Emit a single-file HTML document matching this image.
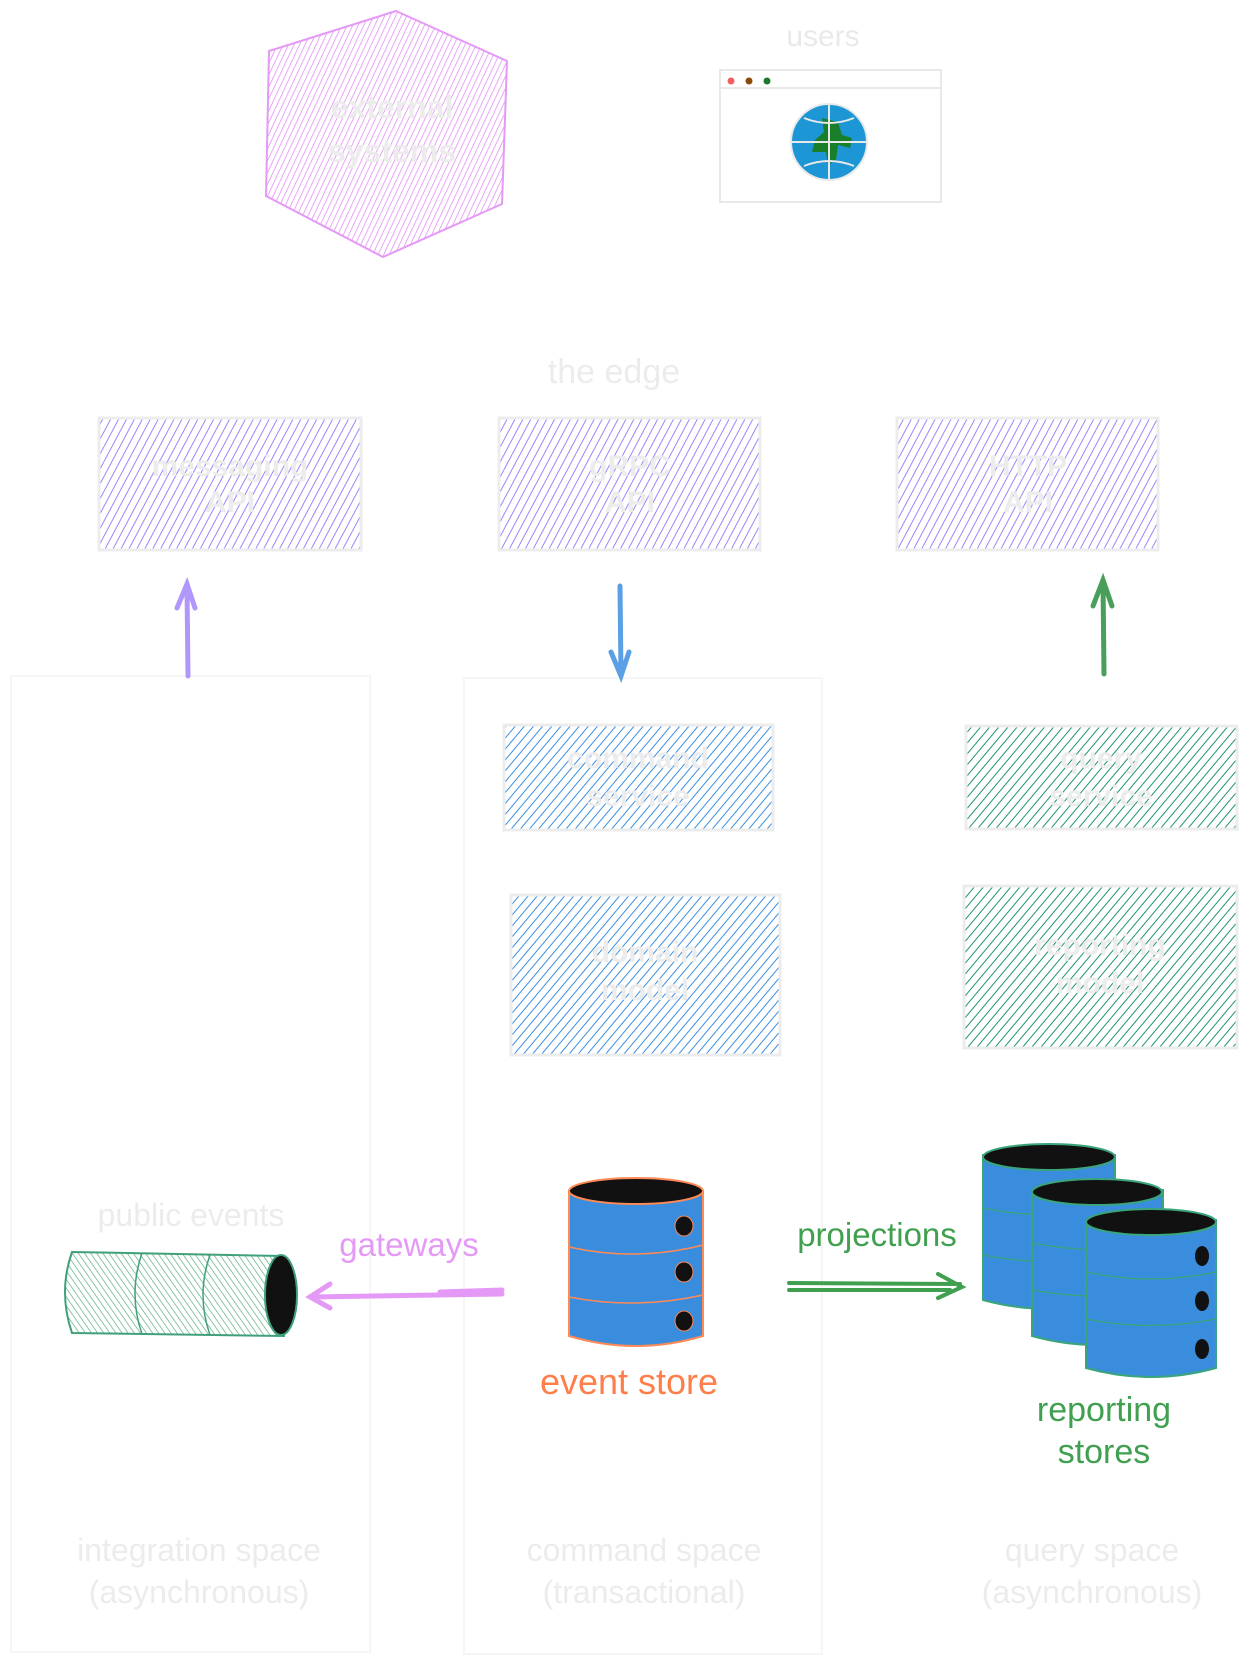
<!DOCTYPE html>
<html><head><meta charset="utf-8"><style>
html,body{margin:0;padding:0;background:#fff;}
svg{display:block}
text{font-family:"Liberation Sans",sans-serif;}
</style></head><body>
<svg width="1247" height="1670" viewBox="0 0 1247 1670" xmlns="http://www.w3.org/2000/svg">
<defs>
<pattern id="hp" width="5" height="5" patternUnits="userSpaceOnUse" patternTransform="rotate(25)"><line x1="0" y1="0" x2="0" y2="5" stroke="#e080f5" stroke-width="1.4"/></pattern>
<pattern id="hv" width="7" height="7" patternUnits="userSpaceOnUse" patternTransform="rotate(28)"><line x1="0" y1="0" x2="0" y2="7" stroke="#a283fb" stroke-width="2"/></pattern>
<pattern id="hb" width="7" height="7" patternUnits="userSpaceOnUse" patternTransform="rotate(40)"><line x1="0" y1="0" x2="0" y2="7" stroke="#3a8fe2" stroke-width="2"/></pattern>
<pattern id="hg" width="7" height="7" patternUnits="userSpaceOnUse" patternTransform="rotate(40)"><line x1="0" y1="0" x2="0" y2="7" stroke="#1f9566" stroke-width="2"/></pattern>
<pattern id="hgl" width="5" height="5" patternUnits="userSpaceOnUse" patternTransform="rotate(-35)"><line x1="0" y1="0" x2="0" y2="5" stroke="#5aae7a" stroke-width="1.4"/></pattern>
</defs>

<rect x="11" y="676" width="359" height="976" fill="none" stroke="#f6f6f6" stroke-width="2"/>
<rect x="464" y="678" width="358" height="976" fill="none" stroke="#f6f6f6" stroke-width="2"/>

<polygon points="396,11 507,61 502,204 383,257 266,196 269,51" fill="url(#hp)" stroke="#e599f7" stroke-width="2"/>
<text x="392" y="118" font-size="32" font-weight="bold" fill="#ececec" text-anchor="middle">external</text>
<text x="392" y="162" font-size="32" font-weight="bold" fill="#ececec" text-anchor="middle">systems</text>

<text x="823" y="46" font-size="30" fill="#e9e9e9" text-anchor="middle">users</text>
<rect x="720" y="70" width="221" height="132" fill="#fff" stroke="#e9e9e9" stroke-width="2"/>
<line x1="720" y1="88" x2="941" y2="88" stroke="#e9e9e9" stroke-width="2"/>
<circle cx="731" cy="81" r="3.5" fill="#f06060"/>
<circle cx="749" cy="81" r="3.5" fill="#8a4a0a"/>
<circle cx="767" cy="81" r="3.5" fill="#1a7a2a"/>
<circle cx="829" cy="142" r="38" fill="#1c96d4" stroke="#e9e9e9" stroke-width="2"/>
<path d="M822,118 L838,122 L842,135 L852,138 L850,148 L838,145 L836,160 L828,165 L826,152 L812,152 L815,140 L824,132 Z" fill="#1a7f2a"/>
<line x1="791" y1="142" x2="867" y2="142" stroke="#e9e9e9" stroke-width="2"/>
<line x1="829" y1="104" x2="829" y2="180" stroke="#e9e9e9" stroke-width="2"/>
<path d="M804,118 Q829,128 854,118 M804,166 Q829,156 854,166" fill="none" stroke="#e9e9e9" stroke-width="2"/>

<text x="614" y="383" font-size="34" fill="#ececec" text-anchor="middle">the edge</text>

<g font-size="30" font-weight="bold" fill="#ececec" text-anchor="middle">
<rect x="99" y="418" width="262" height="132" fill="url(#hv)" stroke="#ececec" stroke-width="3"/>
<text x="230" y="476">messaging</text>
<text x="230" y="512">API</text>
<rect x="499" y="418" width="261" height="132" fill="url(#hv)" stroke="#ececec" stroke-width="3"/>
<text x="630" y="476">gRPC</text>
<text x="630" y="512">API</text>
<rect x="897" y="418" width="261" height="132" fill="url(#hv)" stroke="#ececec" stroke-width="3"/>
<text x="1028" y="476">HTTP</text>
<text x="1028" y="512">API</text>
</g>

<g stroke-linecap="round" fill="none" stroke-width="5">
<path d="M188,676 L187,586 M177,608 L187,584 L195,608" stroke="#b197fc"/>
<path d="M620,586 L621,674 M611,652 L621,676 L629,652" stroke="#5ba0e5"/>
<path d="M1104,674 L1103,582 M1093,606 L1103,580 L1112,606" stroke="#4a9e5c"/>
</g>

<g font-size="30" font-weight="bold" fill="#ececec" text-anchor="middle">
<rect x="504" y="725" width="269" height="105" fill="url(#hb)" stroke="#ececec" stroke-width="3"/>
<text x="638" y="768">command</text>
<text x="638" y="806">service</text>
<rect x="511" y="895" width="269" height="160" fill="url(#hb)" stroke="#ececec" stroke-width="3"/>
<text x="645" y="962">domain</text>
<text x="645" y="1000">model</text>
<rect x="966" y="726" width="271" height="103" fill="url(#hg)" stroke="#ececec" stroke-width="3"/>
<text x="1101" y="768">query</text>
<text x="1101" y="806">service</text>
<rect x="964" y="886" width="273" height="162" fill="url(#hg)" stroke="#ececec" stroke-width="3"/>
<text x="1100" y="955">reporting</text>
<text x="1100" y="993">model</text>
</g>

<text x="191" y="1226" font-size="32" fill="#ececec" text-anchor="middle">public events</text>
<path d="M72,1252 L283,1256 L284,1336 L72,1333 Q58,1292 72,1252 Z" fill="url(#hgl)" stroke="#3fa07a" stroke-width="2"/>
<path d="M142,1253 Q128,1294 142,1334 M210,1255 Q196,1295 210,1335" fill="none" stroke="#3fa07a" stroke-width="1.5"/>
<ellipse cx="281" cy="1295" rx="16" ry="40" fill="#111" stroke="#3fa07a" stroke-width="2"/>

<text x="409" y="1256" font-size="33" fill="#e599f7" text-anchor="middle">gateways</text>
<path d="M502,1294 L312,1297 M330,1284 L310,1297 L330,1308 M502,1290 L440,1292" stroke="#e599f7" stroke-width="5" fill="none" stroke-linecap="round"/>

<path d="M569,1191 L569,1336 Q636,1356 703,1336 L703,1191 Z" fill="#3a8ddc" stroke="#ff8a55" stroke-width="2"/>
<ellipse cx="636" cy="1191" rx="67" ry="13" fill="#111" stroke="#ff8a55" stroke-width="2"/>
<path d="M569,1247 Q636,1262 703,1245 M569,1297 Q636,1310 703,1295" fill="none" stroke="#ff8a55" stroke-width="1.5"/>
<ellipse cx="684" cy="1226" rx="9" ry="10" fill="#111" stroke="#ff8a55"/>
<ellipse cx="684" cy="1272" rx="9" ry="10" fill="#111" stroke="#ff8a55"/>
<ellipse cx="684" cy="1321" rx="9" ry="10" fill="#111" stroke="#ff8a55"/>
<text x="629" y="1394" font-size="36" fill="#ff7f4a" text-anchor="middle">event store</text>

<text x="877" y="1246" font-size="33" fill="#40a050" text-anchor="middle">projections</text>
<path d="M789,1283 L960,1284 M789,1290 L950,1290 M938,1274 L962,1287 L938,1298" stroke="#40a050" stroke-width="4" fill="none" stroke-linecap="round"/>

<g stroke="#3aa57a" stroke-width="2">
<path d="M983,1155 L983,1300 Q1049,1318 1115,1300 L1115,1155 Z" fill="#3a8ddc"/>
<ellipse cx="1049" cy="1157" rx="66" ry="13" fill="#111"/>
<path d="M983,1208 Q1049,1222 1115,1208 M983,1255 Q1049,1268 1115,1255" fill="none" stroke-width="1.3"/>
<path d="M1032,1190 L1032,1336 Q1097,1354 1163,1336 L1163,1190 Z" fill="#3a8ddc"/>
<ellipse cx="1097" cy="1192" rx="65" ry="13" fill="#111"/>
<path d="M1032,1243 Q1097,1256 1163,1243 M1032,1290 Q1097,1302 1163,1290" fill="none" stroke-width="1.3"/>
<path d="M1086,1220 L1086,1368 Q1151,1386 1216,1368 L1216,1220 Z" fill="#3a8ddc"/>
<ellipse cx="1151" cy="1222" rx="65" ry="13" fill="#111"/>
<path d="M1086,1272 Q1151,1286 1216,1272 M1086,1319 Q1151,1332 1216,1319" fill="none" stroke-width="1.3"/>
</g>
<ellipse cx="1202" cy="1256" rx="7" ry="10" fill="#111"/>
<ellipse cx="1202" cy="1301" rx="7" ry="10" fill="#111"/>
<ellipse cx="1202" cy="1349" rx="7" ry="10" fill="#111"/>
<text x="1104" y="1421" font-size="34" fill="#40a050" text-anchor="middle">reporting</text>
<text x="1104" y="1463" font-size="34" fill="#40a050" text-anchor="middle">stores</text>

<g font-size="32" fill="#ececec" text-anchor="middle">
<text x="199" y="1561">integration space</text>
<text x="199" y="1603">(asynchronous)</text>
<text x="644" y="1561">command space</text>
<text x="644" y="1603">(transactional)</text>
<text x="1092" y="1561">query space</text>
<text x="1092" y="1603">(asynchronous)</text>
</g>
</svg>
</body></html>
